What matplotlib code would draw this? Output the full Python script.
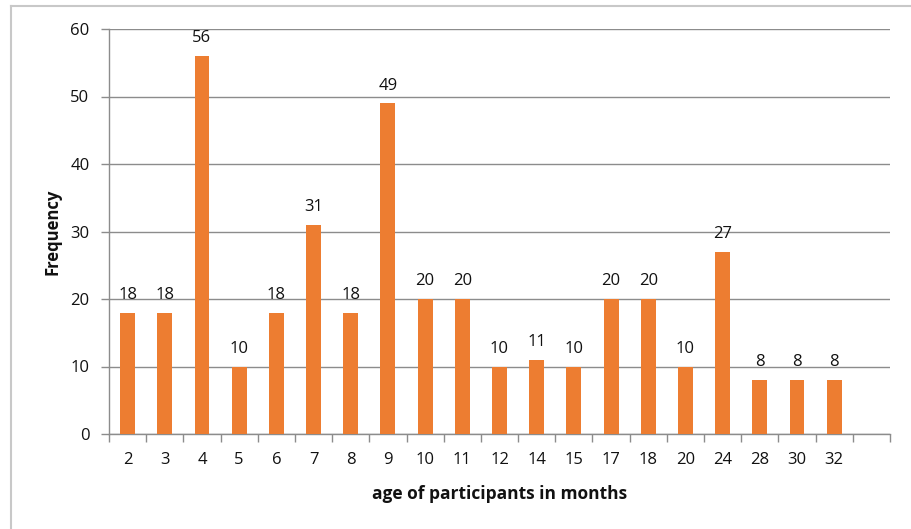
import matplotlib
matplotlib.use("Agg")
import matplotlib.pyplot as plt
from matplotlib.lines import Line2D

ages = ["2", "3", "4", "5", "6", "7", "8", "9", "10", "11", "12", "14",
        "15", "17", "18", "20", "24", "28", "30", "32"]
frequency = [18, 18, 56, 10, 18, 31, 18, 49, 20, 20, 10, 11,
             10, 20, 20, 10, 27, 8, 8, 8]
y_ticks = [0, 10, 20, 30, 40, 50, 60]

plt.rcParams["font.family"] = ["Open Sans", "DejaVu Sans"]

fig = plt.figure(figsize=(9.11, 5.29), dpi=100)
ax = fig.add_axes([109 / 911, 1 - 434 / 529, (890 - 109) / 911, (434 - 29) / 529])

bar_color = "#ED7D31"
axis_color = "#8c8c8c"
text_color = "#111111"

x = list(range(len(ages)))
ax.bar(x, frequency, width=0.4, color=bar_color, zorder=3)

for xi, v in zip(x, frequency):
    ax.annotate(str(v), (xi, v), xytext=(0, 7), textcoords="offset points",
                ha="center", va="bottom", fontsize=12, color=text_color)

n_slots = len(ages) + 1
ax.set_xlim(-0.5, n_slots - 0.5)
ax.set_ylim(0, 60)
ax.set_yticks(y_ticks)
ax.set_xticks(x)
ax.set_xticklabels(ages)
ax.set_xticks([i - 0.5 for i in range(n_slots + 1)], minor=True)

ax.tick_params(axis="x", which="major", length=0, pad=13, labelsize=12, labelcolor=text_color)
ax.tick_params(axis="x", which="minor", length=6, width=1, color=axis_color)
ax.tick_params(axis="y", length=6, width=1, color=axis_color, pad=8,
               labelsize=12, labelcolor=text_color)

ax.grid(axis="y", color=axis_color, linewidth=1, zorder=0)
for side in ("top", "right"):
    ax.spines[side].set_visible(False)
for side in ("left", "bottom"):
    ax.spines[side].set_color(axis_color)
    ax.spines[side].set_linewidth(1)

ax.set_ylabel("Frequency", fontsize=12, fontweight="bold", labelpad=6, color=text_color)
ax.set_xlabel("age of participants in months", fontsize=12.5, fontweight="bold",
              labelpad=12, color=text_color)

# light frame around the chart area
frame_color = "#c8c8c8"
fig.add_artist(Line2D([10.5 / 911, 1], [1 - 5.5 / 529, 1 - 5.5 / 529],
                      transform=fig.transFigure, color=frame_color, linewidth=1.5))
fig.add_artist(Line2D([10.5 / 911, 10.5 / 911], [0, 1 - 5.5 / 529],
                      transform=fig.transFigure, color=frame_color, linewidth=1.5))

fig.savefig("out.png", dpi=100, facecolor="white")
